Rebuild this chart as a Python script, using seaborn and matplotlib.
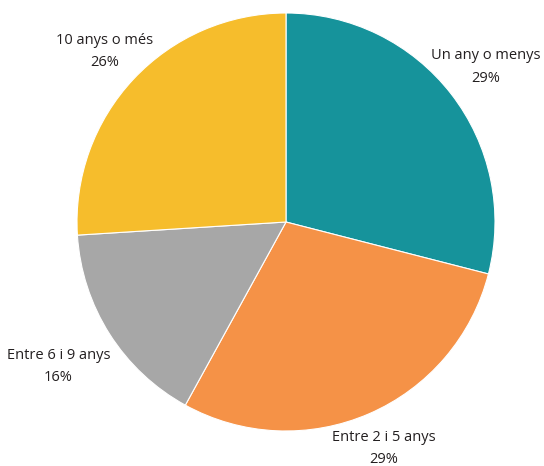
import numpy as np
import matplotlib
matplotlib.use('Agg')
import matplotlib.pyplot as plt
import seaborn as sns

# Dades del gràfic
categories = ['Un any o menys', 'Entre 2 i 5 anys', 'Entre 6 i 9 anys', '10 anys o més']
percentatges = [29, 29, 16, 26]
colors = ['#16939b', '#f59247', '#a7a7a7', '#f6bd2c']
distancies = [1.21, 1.18, 1.29, 1.19]

sns.set_style('white')
plt.rcParams['font.family'] = ['Open Sans', 'DejaVu Sans']

fig = plt.figure(figsize=(5.44, 4.66), dpi=100)
ax = fig.add_axes([0, 0, 1, 1])

wedges, _ = ax.pie(percentatges, colors=colors, startangle=90, counterclock=False,
                   wedgeprops=dict(edgecolor='white', linewidth=0.8))

for w, cat, pct, d in zip(wedges, categories, percentatges, distancies):
    ang = np.deg2rad((w.theta1 + w.theta2) / 2)
    ax.text(d * np.cos(ang), d * np.sin(ang), f'{cat}\n{pct}%', ha='center', va='center',
            fontsize=10.5, color='#231f20', linespacing=1.65)

# posició del pastís dins la figura
r_px = 209
ax.set_xlim(-286 / r_px, (544 - 286) / r_px)
ax.set_ylim(-(466 - 222) / r_px, 222 / r_px)
ax.set_aspect('auto')
ax.axis('off')

fig.savefig('out.png', dpi=100)
